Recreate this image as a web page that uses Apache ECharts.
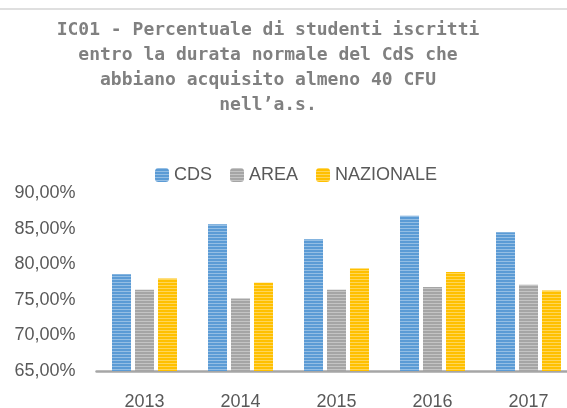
<!DOCTYPE html>
<html>
<head>
<meta charset="utf-8">
<title>IC01</title>
<script src="https://cdn.jsdelivr.net/npm/echarts@6/dist/echarts.min.js"></script>
<style>
  html, body { margin: 0; padding: 0; background: #fff; }
  #main { width: 567px; height: 408px; }
</style>
</head>
<body>
<div id="main"></div>
<script>
// 数据
var years = ["2013", "2014", "2015", "2016", "2017"];
var cds = [78.6, 85.6, 83.5, 86.8, 84.5];
var area = [76.4, 75.2, 76.4, 76.8, 77.1];
var nazionale = [78.0, 77.4, 79.4, 78.9, 76.3];

// 横条纹（类似 Excel 的图案填充）
var stripes = {
  symbol: "rect",
  symbolSize: 1,
  dashArrayX: [1, 0],
  dashArrayY: [1, 2],
  color: "rgba(255,255,255,0.35)"
};

var chart = echarts.init(document.getElementById("main"));

var option = {
  backgroundColor: "#fff",
  animation: false,
  // 标题
  title: {
    text: "IC01 - Percentuale di studenti iscritti\nentro la durata normale del CdS che\nabbiano acquisito almeno 40 CFU\nnell\u2019a.s.",
    left: 268,
    top: 18,
    padding: 0,
    textAlign: "center",
    textStyle: {
      fontFamily: "DejaVu Sans Mono",
      fontWeight: "bold",
      fontSize: 18,
      lineHeight: 25,
      color: "#808080"
    }
  },
  // 图例
  legend: {
    data: ["CDS", "AREA", "NAZIONALE"],
    left: 150,
    top: 161,
    itemWidth: 14,
    itemHeight: 14,
    itemGap: 18,
    textStyle: {
      fontFamily: "Liberation Sans",
      fontSize: 18,
      color: "#595959"
    }
  },
  grid: {
    left: 96.5,
    right: -9.5,
    top: 193,
    bottom: 37,
    containLabel: false,
    outerBoundsMode: "none"
  },
  xAxis: {
    type: "category",
    data: years,
    axisTick: { show: false },
    axisLine: { lineStyle: { color: "#a6a6a6", width: 2.5 } },
    axisLabel: {
      margin: 22,
      fontFamily: "Liberation Sans",
      fontSize: 18,
      color: "#595959"
    }
  },
  yAxis: {
    type: "value",
    min: 65,
    max: 90,
    interval: 5,
    axisLine: { show: false },
    axisTick: { show: false },
    splitLine: { show: false },
    axisLabel: {
      margin: 21,
      fontFamily: "Liberation Sans",
      fontSize: 18,
      color: "#595959",
      formatter: function (v) {
        return v.toFixed(2).replace(".", ",") + "%";
      }
    }
  },
  series: [
    {
      name: "CDS",
      type: "bar",
      data: cds,
      barWidth: 19,
      barGap: "21%",
      itemStyle: { color: "#5b9bd5", decal: stripes }
    },
    {
      name: "AREA",
      type: "bar",
      data: area,
      barWidth: 19,
      barGap: "21%",
      itemStyle: { color: "#a5a5a5", decal: stripes }
    },
    {
      name: "NAZIONALE",
      type: "bar",
      data: nazionale,
      barWidth: 19,
      barGap: "21%",
      itemStyle: { color: "#ffc000", decal: stripes }
    }
  ],
  // 顶部的分隔线
  graphic: [
    {
      type: "line",
      shape: { x1: 0, y1: 9, x2: 567, y2: 9 },
      style: { stroke: "#d4d4d4", lineWidth: 1.5 }
    }
  ]
};

chart.setOption(option);
</script>
</body>
</html>
